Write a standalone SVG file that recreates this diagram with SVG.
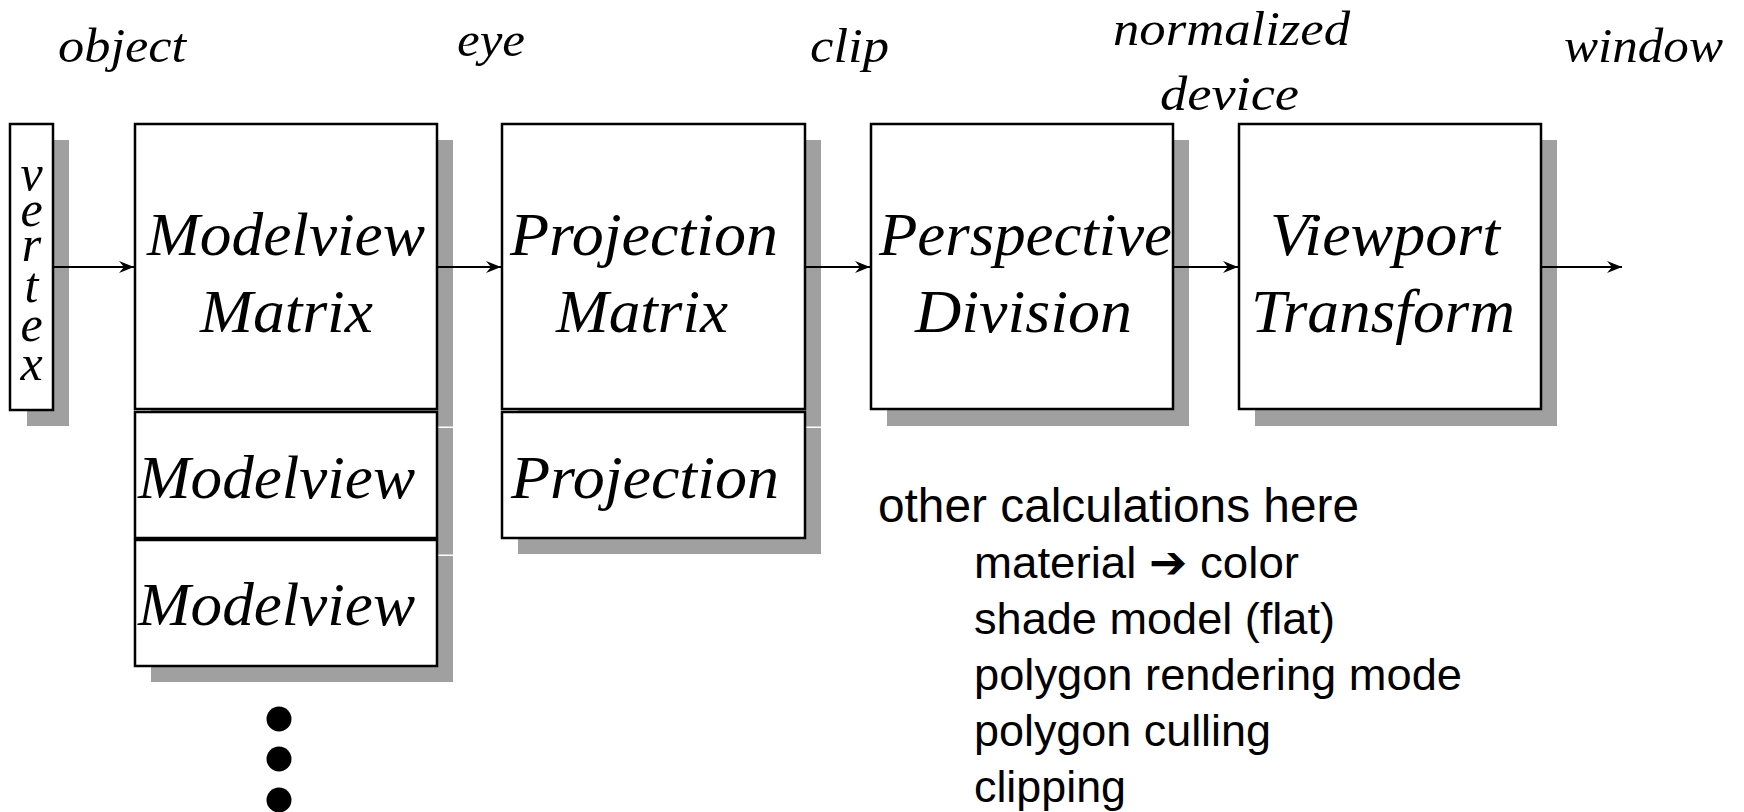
<svg xmlns="http://www.w3.org/2000/svg" width="1744" height="812" viewBox="0 0 1744 812">
<defs>
<style>
.box{fill:#fff;stroke:#000;stroke-width:2.5}
.sh{fill:#a0a0a0}
.it{font-family:"Liberation Serif","Times New Roman",serif;font-style:italic;fill:#000}
.big{font-size:62px}
.sm{font-size:48px}
.vx{font-size:50px;text-anchor:middle}
.ar{font-family:"Liberation Sans",Arial,sans-serif;fill:#000}
.conn{stroke:#000;stroke-width:2;fill:none;marker-end:url(#ah)}
</style>
<marker id="ah" markerUnits="userSpaceOnUse" markerWidth="16" markerHeight="14" viewBox="-15 -7 16 14" refX="0" refY="0" orient="auto">
<path d="M0,0 L-15,-6 L-10,0 L-15,6 Z" fill="#000"/>
</marker>
</defs>
<rect width="1744" height="812" fill="#fff"/>

<g id="labels">
<text class="it sm" x="58" y="62" textLength="128" lengthAdjust="spacingAndGlyphs">object</text>
<text class="it sm" x="457" y="56" textLength="68" lengthAdjust="spacingAndGlyphs">eye</text>
<text class="it sm" x="810" y="62" textLength="79" lengthAdjust="spacingAndGlyphs">clip</text>
<text class="it sm" x="1113" y="45" textLength="237" lengthAdjust="spacingAndGlyphs">normalized</text>
<text class="it sm" x="1160" y="110" textLength="139" lengthAdjust="spacingAndGlyphs">device</text>
<text class="it sm" x="1564" y="62" textLength="159" lengthAdjust="spacingAndGlyphs">window</text>
</g>

<g id="vertex">
<rect class="sh" x="27" y="140" width="42" height="286"/>
<rect class="box" x="10" y="124" width="43" height="286"/>
<text class="it vx"><tspan x="31.5" y="190">v</tspan><tspan x="31.5" y="226">e</tspan><tspan x="31.5" y="261">r</tspan><tspan x="31.5" y="302">t</tspan><tspan x="31.5" y="341">e</tspan><tspan x="31.5" y="380">x</tspan></text>
</g>

<g id="modelview-matrix">
<rect class="sh" x="151" y="140" width="302" height="286.5"/>
<rect class="box" x="135" y="124" width="302" height="285"/>
<text class="it big" x="147" y="255" textLength="278" lengthAdjust="spacingAndGlyphs">Modelview</text>
<text class="it big" x="200" y="332" textLength="173" lengthAdjust="spacingAndGlyphs">Matrix</text>
</g>

<g id="modelview-stack-1">
<rect class="sh" x="151" y="428" width="302" height="126.5"/>
<rect class="box" x="135" y="412" width="302" height="126"/>
<text class="it big" x="138" y="498" textLength="277" lengthAdjust="spacingAndGlyphs">Modelview</text>
</g>

<g id="modelview-stack-2">
<rect class="sh" x="151" y="556" width="302" height="126"/>
<rect class="box" x="135" y="540" width="302" height="126"/>
<text class="it big" x="138" y="625" textLength="277" lengthAdjust="spacingAndGlyphs">Modelview</text>
</g>

<g id="stack-dots">
<circle cx="279" cy="719" r="12.5" fill="#000"/>
<circle cx="279" cy="759" r="12.5" fill="#000"/>
<circle cx="279" cy="800" r="12.5" fill="#000"/>
</g>

<g id="projection-matrix">
<rect class="sh" x="518" y="140" width="303" height="286.5"/>
<rect class="box" x="502" y="124" width="303" height="285"/>
<text class="it big" x="510" y="255" textLength="268" lengthAdjust="spacingAndGlyphs">Projection</text>
<text class="it big" x="556" y="332" textLength="172" lengthAdjust="spacingAndGlyphs">Matrix</text>
</g>

<g id="projection-stack">
<rect class="sh" x="518" y="428" width="303" height="126"/>
<rect class="box" x="502" y="412" width="303" height="126"/>
<text class="it big" x="511" y="498" textLength="268" lengthAdjust="spacingAndGlyphs">Projection</text>
</g>

<g id="perspective-division">
<rect class="sh" x="887" y="140" width="302" height="286"/>
<rect class="box" x="871" y="124" width="302" height="285"/>
<text class="it big" x="879" y="255" textLength="293" lengthAdjust="spacingAndGlyphs">Perspective</text>
<text class="it big" x="915" y="332" textLength="217" lengthAdjust="spacingAndGlyphs">Division</text>
</g>

<g id="viewport-transform">
<rect class="sh" x="1255" y="140" width="302" height="286"/>
<rect class="box" x="1239" y="124" width="302" height="285"/>
<text class="it big" x="1270" y="255" textLength="230" lengthAdjust="spacingAndGlyphs">Viewport</text>
<text class="it big" x="1251" y="332" textLength="264" lengthAdjust="spacingAndGlyphs">Transform</text>
</g>

<g id="connectors">
<line class="conn" x1="53" y1="267" x2="134" y2="267"/>
<line class="conn" x1="437" y1="267" x2="501" y2="267"/>
<line class="conn" x1="805" y1="267" x2="870" y2="267"/>
<line class="conn" x1="1173" y1="267" x2="1238" y2="267"/>
<line class="conn" x1="1541" y1="267" x2="1622" y2="267"/>
</g>

<g id="other-calculations">
<text class="ar" x="878" y="522" font-size="48" textLength="481" lengthAdjust="spacingAndGlyphs">other calculations here</text>
<text class="ar" x="974" y="578" font-size="45" textLength="325" lengthAdjust="spacingAndGlyphs">material <tspan font-family="DejaVu Sans" font-weight="bold">➔</tspan> color</text>
<text class="ar" x="974" y="634" font-size="45" textLength="361" lengthAdjust="spacingAndGlyphs">shade model (flat)</text>
<text class="ar" x="974" y="690" font-size="45" textLength="488" lengthAdjust="spacingAndGlyphs">polygon rendering mode</text>
<text class="ar" x="974" y="746" font-size="45" textLength="297" lengthAdjust="spacingAndGlyphs">polygon culling</text>
<text class="ar" x="974" y="802" font-size="45" textLength="152" lengthAdjust="spacingAndGlyphs">clipping</text>
</g>
</svg>
